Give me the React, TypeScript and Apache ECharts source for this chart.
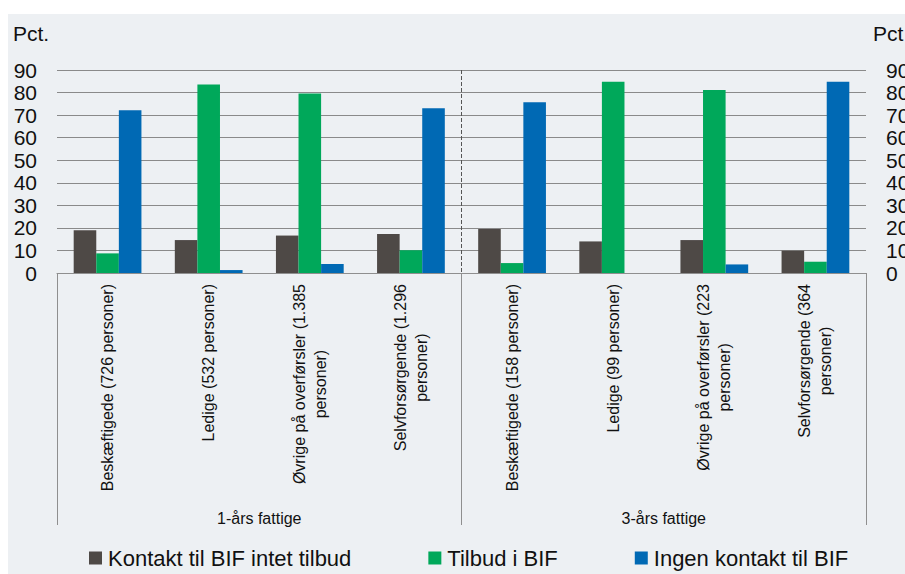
import React, { useEffect, useRef } from "react";
import * as echarts from "echarts";

const categories = [
  "Beskæftigede (726 personer)",
  "Ledige (532 personer)",
  "Øvrige på overførsler (1.385\npersoner)",
  "Selvforsørgende (1.296\npersoner)",
  "Beskæftigede (158 personer)",
  "Ledige (99 personer)",
  "Øvrige på overførsler (223\npersoner)",
  "Selvforsørgende (364\npersoner)",
];
const groups = ["1-års fattige", "3-års fattige"];
const seriesNames = ["Kontakt til BIF intet tilbud", "Tilbud i BIF", "Ingen kontakt til BIF"];
const kontakt = [19, 14.6, 16.6, 17.3, 19.5, 14.0, 14.6, 9.9];
const tilbud = [8.7, 83.6, 79.6, 10.1, 4.4, 84.8, 81.1, 5.0];
const ingen = [72.1, 1.3, 4.0, 73.0, 75.7, 0, 3.8, 84.8];
const yTicks = { min: 0, max: 90, interval: 10 };
const unitLabel = "Pct.";
const unitLabelRight = "Pct";

const colors = ["#4e4946", "#00a85a", "#0069b4"];
const FONT = "'Liberation Sans', Arial, sans-serif";

export default function App() {
  const ref = useRef<HTMLDivElement>(null);
  useEffect(() => {
    if (!ref.current) return;
    const chart = echarts.init(ref.current, undefined, { renderer: "svg" });
    const values = [kontakt, tilbud, ingen];
    chart.setOption({
      animation: false,
      backgroundColor: "#edf0f3",
      textStyle: { fontFamily: FONT },
      grid: { left: 49, right: 39, top: 56, bottom: 301, containLabel: false, outerBoundsMode: "none" },
      legend: {
        left: 76,
        top: 528,
        itemWidth: 13,
        itemHeight: 13,
        itemGap: 77,
        icon: "rect",
        textStyle: { fontSize: 22, color: "#111", fontFamily: FONT, padding: [0, 0, 0, 1] },
        data: seriesNames,
      },
      xAxis: [
        {
          type: "category",
          data: categories,
          axisLine: { show: true, lineStyle: { color: "#8f8f8f", width: 1 } },
          axisTick: { show: false },
          axisLabel: {
            interval: 0,
            rotate: 90,
            margin: 11,
            color: "#111",
            fontSize: 16,
            fontFamily: FONT,
            formatter: (v: string) =>
              v
                .split("\n")
                .map((l) => `{c|${l}}`)
                .join("\n"),
            rich: { c: { align: "center", fontSize: 16, lineHeight: 21, color: "#111", fontFamily: FONT } },
          },
          splitLine: { show: false },
        },
        {
          type: "category",
          data: groups,
          position: "bottom",
          offset: 0,
          axisLine: { show: false },
          axisTick: { show: true, inside: false, length: 252, lineStyle: { color: "#8f8f8f", width: 1 } },
          axisLabel: { margin: 237, color: "#111", fontSize: 16, fontFamily: FONT },
          splitLine: {
            show: true,
            lineStyle: {
              color: ["rgba(0,0,0,0)", "#555555", "rgba(0,0,0,0)"],
              type: "dashed",
              width: 1,
            },
          },
        },
      ],
      yAxis: [
        {
          type: "value",
          ...yTicks,
          position: "left",
          axisLine: { show: false },
          axisTick: { show: false },
          axisLabel: { margin: 20, color: "#111", fontSize: 21, fontFamily: FONT },
          splitLine: { show: true, lineStyle: { color: "#8a8a8a", width: 1 } },
        },
        {
          type: "value",
          ...yTicks,
          position: "right",
          axisLine: { show: false },
          axisTick: { show: false },
          axisLabel: { margin: 20, color: "#111", fontSize: 21, fontFamily: FONT },
          splitLine: { show: false },
        },
      ],
      graphic: [
        {
          type: "text",
          left: 5,
          top: 9,
          style: { text: unitLabel, fontSize: 21, fill: "#111", fontFamily: FONT },
        },
        {
          type: "text",
          left: 865,
          top: 9,
          style: { text: unitLabelRight, fontSize: 21, fill: "#111", fontFamily: FONT },
        },
      ],
      series: seriesNames.map((name, i) => ({
        name,
        type: "bar",
        data: values[i],
        xAxisIndex: 0,
        yAxisIndex: 0,
        barGap: "0%",
        barCategoryGap: "33%",
        itemStyle: { color: colors[i] },
      })),
    });
    return () => chart.dispose();
  }, []);
  return (
    <div style={{ position: "fixed", left: 0, top: 0, width: 905, height: 574, background: "#ffffff" }}>
      <div ref={ref} style={{ position: "absolute", left: 8, top: 14, width: 897, height: 560 }} />
    </div>
  );
}
